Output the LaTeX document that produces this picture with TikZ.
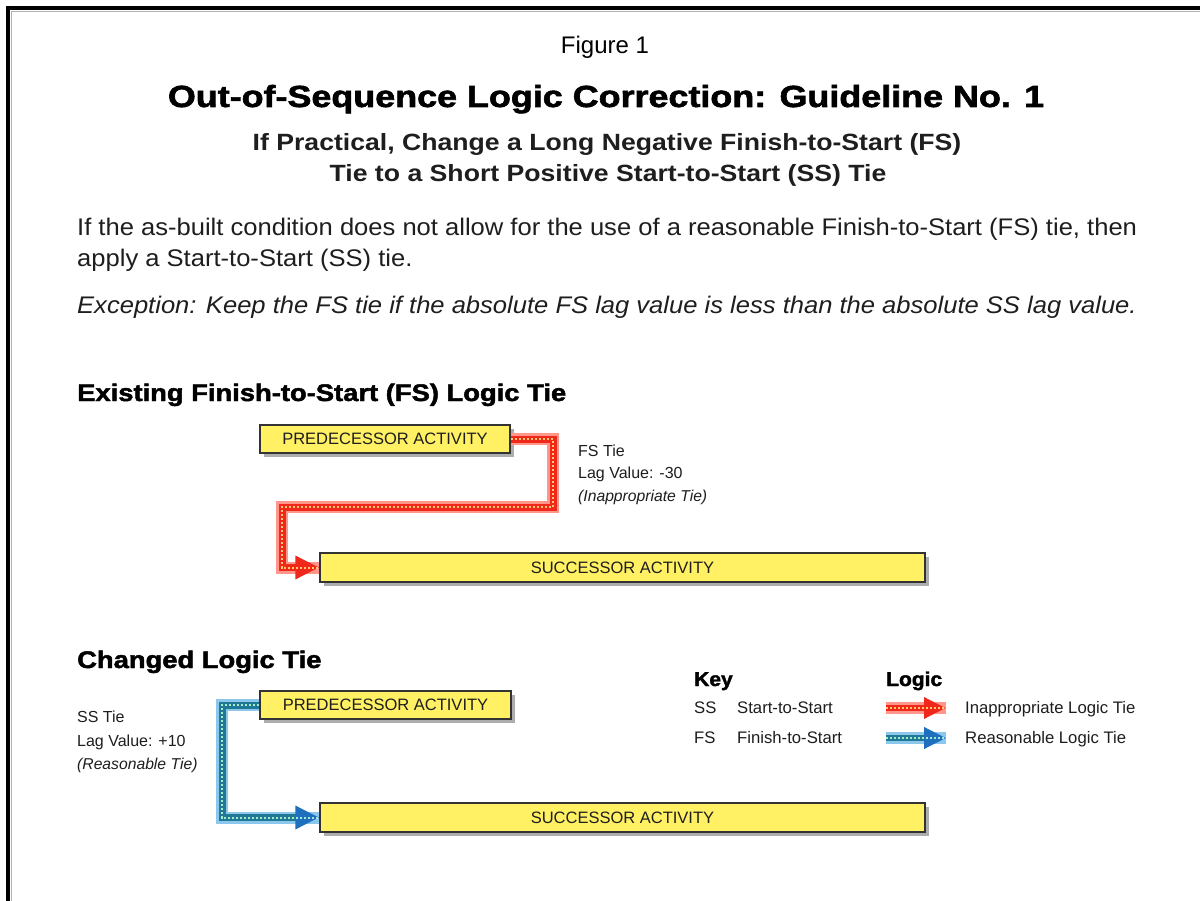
\documentclass[tikz,border=0pt]{standalone}
\usepackage{graphicx}
\usepackage{fontspec}
\setmainfont{Liberation Sans}
\newfontfamily\heavyfont{Liberation Sans}[BoldFeatures={FakeBold=1.8}]
\usetikzlibrary{shadows,arrows.meta}
\newcommand\widen[2]{\scalebox{#1}[1]{#2}}
\definecolor{boxyellow}{RGB}{255,240,100}
\definecolor{tiered}{RGB}{240,40,28}
\definecolor{redglow}{RGB}{255,150,140}
\definecolor{reddot}{RGB}{255,200,110}
\definecolor{tieblue}{RGB}{30,120,150}
\definecolor{blueglow}{RGB}{140,200,235}
\definecolor{bluedot}{RGB}{165,235,200}
\definecolor{bluehead}{RGB}{30,112,190}
\definecolor{txt}{RGB}{30,30,30}
\tikzset{
  actbox/.style={draw=black!80, line width=1.2pt, fill=boxyellow, inner sep=0pt,
    font=\fontsize{16.5}{19}\selectfont, text=txt,
    drop shadow={shadow xshift=4pt, shadow yshift=-4pt, fill=black!40, opacity=0.8}},
  redtie/.style={line width=7pt, draw=tiered, line join=miter,
    preaction={draw=redglow, line width=12pt, arrows=-},
    postaction={draw=reddot, line width=2pt, dash pattern=on 2pt off 2pt, arrows=-}},
  bluetie/.style={line width=7pt, draw=tieblue, line join=miter,
    preaction={draw=blueglow, line width=12pt, arrows=-},
    postaction={draw=bluedot, line width=2pt, dash pattern=on 2pt off 2pt, arrows=-}},
  lbl/.style={anchor=base west, inner sep=0pt, text=txt, font=\fontsize{16}{19}\selectfont},
  sml/.style={anchor=base west, inner sep=0pt, text=txt, font=\fontsize{15.7}{18}\selectfont\itshape},
  keytxt/.style={anchor=base west, inner sep=0pt, text=txt, font=\fontsize{16.7}{19}\selectfont},
  hd/.style={anchor=base west, inner sep=0pt, font=\fontsize{24}{27}\selectfont\heavyfont\bfseries},
  keyhd/.style={anchor=base west, inner sep=0pt, font=\fontsize{20}{23}\selectfont\heavyfont\bfseries},
  para/.style={anchor=base west, inner sep=0pt, text=txt, font=\fontsize{24}{28}\selectfont},
}
\begin{document}
\begin{tikzpicture}[x=1pt,y=-1pt]
\useasboundingbox (0,0) rectangle (1200,901);
\fill[white] (0,0) rectangle (1200,901);
% frame
\draw[black!30, line width=1.5pt] (11.5,901) -- (11.5,11.5) -- (1200,11.5);
\draw[black, line width=4pt] (8,901) -- (8,8) -- (1200,8);

% headings
\node[anchor=base, inner sep=0pt, font=\fontsize{24}{28}\selectfont] (fig) at (605,54) {Figure 1};
\node[anchor=base, inner sep=0pt, font=\fontsize{30.5}{34}\selectfont\heavyfont\bfseries] (title) at (606,107) {\widen{1.177}{Out-of-Sequence Logic Correction: Guideline No. 1}};
\node[anchor=base, inner sep=0pt, font=\fontsize{23.5}{26}\selectfont\bfseries, text=txt] (sub1) at (607,151) {\widen{1.133}{If Practical, Change a Long Negative Finish-to-Start (FS)}};
\node[anchor=base, inner sep=0pt, font=\fontsize{23.5}{26}\selectfont\bfseries, text=txt] (sub2) at (608,182) {\widen{1.133}{Tie to a Short Positive Start-to-Start (SS) Tie}};
\node[para] (p1) at (77,236) {\widen{1.065}{If the as-built condition does not allow for the use of a reasonable Finish-to-Start (FS) tie, then}};
\node[para] (p2) at (77,267) {\widen{1.065}{apply a Start-to-Start (SS) tie.}};
\node[para, font=\fontsize{24}{28}\selectfont\itshape] (exc) at (77,314) {\widen{1.065}{Exception: Keep the FS tie if the absolute FS lag value is less than the absolute SS lag value.}};

% section 1
\node[hd] (h1) at (77,401) {\widen{1.14}{Existing Finish-to-Start (FS) Logic Tie}};
\node[actbox, minimum width=250pt, minimum height=28pt] (pa) at (385,439) {PREDECESSOR ACTIVITY};
\node[actbox, minimum width=605pt, minimum height=29pt] (sa) at (622.5,567.5) {SUCCESSOR ACTIVITY};
\coordinate (r1) at (553,439);
\coordinate (r2) at (553,507);
\coordinate (r3) at (282,507);
\draw[redtie, -{Triangle[length=24pt,width=22pt]}] (pa.east) -- (r1) -- (r2) -- (r3) |- (sa.west);
\node[lbl] (fst) at (578,456) {FS Tie};
\node[lbl] (fslag) at (578,478) {Lag Value: -30};
\node[sml] (fsnote) at (578,501) {(Inappropriate Tie)};

% section 2
\node[hd] (h2) at (77,668) {\widen{1.14}{Changed Logic Tie}};
\node[actbox, minimum width=251pt, minimum height=28pt] (pb) at (385.5,705) {PREDECESSOR ACTIVITY};
\node[actbox, minimum width=605pt, minimum height=29pt] (sb) at (622.5,817.5) {SUCCESSOR ACTIVITY};
\coordinate (b1) at (222,705);
\draw[bluetie, -{Triangle[length=24pt,width=22pt,color=bluehead]}] (pb.west) -- (b1) |- (sb.west);
\node[lbl] (sst) at (77,722) {SS Tie};
\node[lbl] (sslag) at (77,746) {Lag Value: +10};
\node[sml] (ssnote) at (77,769) {(Reasonable Tie)};

% key
\node[keyhd] (key) at (694,686) {\widen{1.05}{Key}};
\node[keyhd] (logic) at (886,686) {\widen{1.05}{Logic}};
\node[keytxt] (kss) at (694,713) {SS};
\node[keytxt] (ksst) at (737,713) {Start-to-Start};
\node[keytxt] (kfs) at (694,743) {FS};
\node[keytxt] (kfst) at (737,743) {Finish-to-Start};
\coordinate (la1) at (886,708);
\coordinate (la2) at (946,708);
\coordinate (lb1) at (886,738);
\coordinate (lb2) at (946,738);
\draw[redtie, line width=6pt, preaction={draw=redglow, line width=10pt}, -{Triangle[length=22pt,width=20pt]}] (la1) -- (la2);
\draw[bluetie, line width=6pt, preaction={draw=blueglow, line width=10pt}, -{Triangle[length=22pt,width=20pt,color=bluehead]}] (lb1) -- (lb2);
\node[keytxt] (kin) at (965,713) {Inappropriate Logic Tie};
\node[keytxt] (kre) at (965,743) {Reasonable Logic Tie};
\end{tikzpicture}
\end{document}
